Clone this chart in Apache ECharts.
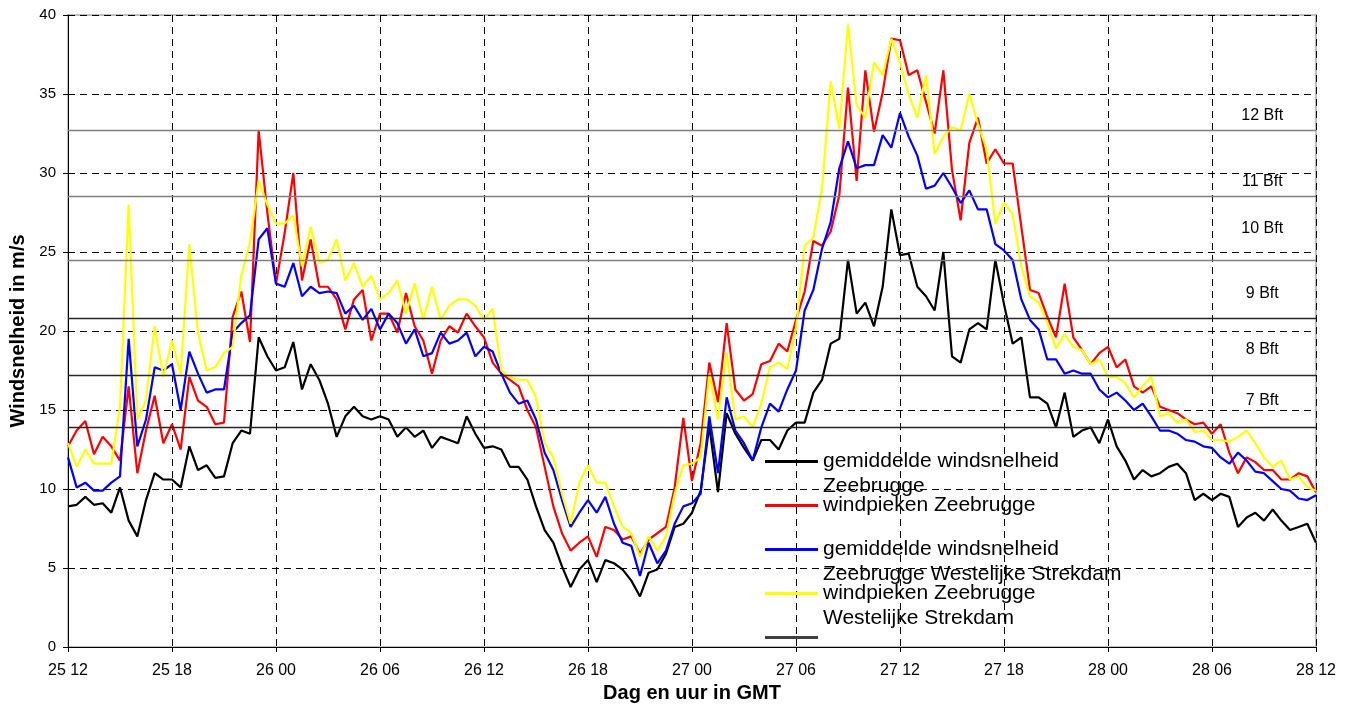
<!DOCTYPE html>
<html>
<head>
<meta charset="utf-8">
<script src="https://cdn.jsdelivr.net/npm/echarts@6/dist/echarts.min.js"></script>
<style>
html, body { margin: 0; padding: 0; background: #fff; }
#chart { width: 1354px; height: 704px; }
</style>
</head>
<body>
<div id="chart"></div>
<script>
// tijdas in uren vanaf 25 12 (GMT), één waarde per half uur
const xLabels = ['25 12', '25 18', '26 00', '26 06', '26 12', '26 18', '27 00',
                 '27 06', '27 12', '27 18', '28 00', '28 06', '28 12'];

// gemiddelde windsnelheid Zeebrugge (m/s)
const meanZeebrugge = [
  8.9, 9.0, 9.5, 9.0, 9.1, 8.5, 10.1, 8.0, 7.0, 9.3, 11.0, 10.6,
  10.6, 10.1, 12.7, 11.2, 11.5, 10.7, 10.8, 12.9, 13.7, 13.5, 19.6, 18.4,
  17.5, 17.7, 19.3, 16.3, 17.9, 16.9, 15.4, 13.3, 14.6, 15.2, 14.6, 14.4,
  14.6, 14.4, 13.3, 13.9, 13.3, 13.7, 12.6, 13.3, 13.1, 12.9, 14.6, 13.5,
  12.6, 12.7, 12.5, 11.4, 11.4, 10.6, 8.9, 7.4, 6.6, 5.1, 3.8, 4.9,
  5.5, 4.1, 5.5, 5.3, 4.9, 4.2, 3.2, 4.7, 4.9, 5.9, 7.6, 7.8,
  8.5, 9.9, 14.0, 9.8, 14.8, 13.5, 12.6, 11.8, 13.1, 13.1, 12.5, 13.7,
  14.2, 14.2, 16.1, 16.9, 19.2, 19.5, 24.5, 21.1, 21.8, 20.3, 22.8, 27.7,
  24.8, 24.9, 22.8, 22.2, 21.3, 25.0, 18.4, 18.0, 20.1, 20.5, 20.1, 24.5,
  21.7, 19.2, 19.6, 15.8, 15.8, 15.4, 13.9, 16.1, 13.3, 13.7, 13.9, 12.9,
  14.4, 12.7, 11.8, 10.6, 11.2, 10.8, 11.0, 11.4, 11.6, 11.0, 9.3, 9.7,
  9.3, 9.7, 9.5, 7.6, 8.2, 8.5, 8.0, 8.7, 8.0, 7.4, 7.6, 7.8,
  6.6
];

// windpieken Zeebrugge (m/s)
const gustZeebrugge = [
  12.7, 13.7, 14.3, 12.2, 13.3, 12.7, 11.8, 16.5, 11.0, 13.7, 15.9, 12.9,
  14.1, 12.5, 17.1, 15.6, 15.2, 14.1, 14.2, 20.9, 22.5, 19.3, 32.7, 27.5,
  23.0, 26.2, 30.0, 23.2, 25.8, 22.8, 22.8, 22.0, 20.1, 22.0, 22.6, 19.4,
  21.1, 21.1, 19.9, 22.4, 20.3, 19.4, 17.3, 19.4, 20.3, 19.9, 21.1, 20.3,
  19.6, 18.0, 17.3, 16.9, 16.5, 15.0, 13.9, 11.4, 8.9, 7.2, 6.1, 6.6,
  7.0, 5.7, 7.6, 7.4, 6.8, 7.0, 5.9, 6.8, 7.2, 7.6, 10.1, 14.5,
  10.5, 12.9, 18.0, 15.5, 20.5, 16.3, 15.6, 16.0, 17.9, 18.1, 19.2, 18.7,
  20.7, 22.5, 25.7, 25.4, 26.3, 28.6, 35.4, 29.5, 36.5, 32.6, 35.1, 38.5,
  38.4, 36.2, 36.5, 34.5, 32.5, 36.5, 30.2, 27.0, 31.9, 33.5, 30.6, 31.5,
  30.6, 30.6, 26.6, 22.6, 22.4, 20.9, 19.6, 23.0, 19.6, 18.8, 17.9, 18.6,
  19.0, 17.7, 18.2, 16.5, 16.1, 16.5, 15.2, 15.0, 14.8, 14.4, 14.1, 14.2,
  13.5, 14.1, 12.3, 11.0, 12.0, 11.7, 11.2, 11.2, 10.6, 10.6, 11.0, 10.8,
  9.8
];

// gemiddelde windsnelheid Zeebrugge Westelijke Strekdam (m/s)
const meanStrekdam = [
  12.0, 10.1, 10.4, 9.9, 9.9, 10.4, 10.8, 19.5, 12.7, 14.4, 17.7, 17.5,
  17.9, 15.0, 18.7, 17.3, 16.1, 16.3, 16.3, 19.9, 20.5, 21.0, 25.8, 26.5,
  23.0, 22.8, 24.3, 22.2, 22.8, 22.4, 22.5, 22.4, 21.1, 21.6, 20.7, 21.4,
  20.1, 21.1, 20.5, 19.2, 20.1, 18.4, 18.6, 19.9, 19.2, 19.4, 19.9, 18.4,
  19.0, 18.7, 17.3, 16.1, 15.4, 15.6, 14.4, 12.3, 11.2, 9.3, 7.6, 8.5,
  9.3, 8.5, 9.5, 7.8, 6.6, 6.4, 4.5, 6.6, 5.3, 6.1, 7.8, 8.9,
  9.1, 9.7, 14.6, 11.0, 15.8, 13.7, 12.9, 11.8, 13.9, 15.4, 14.9, 16.3,
  17.5, 21.3, 22.6, 25.2, 26.9, 30.3, 32.0, 30.3, 30.5, 30.5, 32.4, 31.6,
  33.8, 32.3, 31.1, 29.0, 29.2, 30.0, 29.1, 28.1, 28.9, 27.7, 27.7, 25.5,
  25.1, 24.5, 22.0, 20.7, 20.1, 18.2, 18.2, 17.3, 17.5, 17.3, 17.3, 16.3,
  15.8, 16.1, 15.6, 15.0, 15.4, 14.6, 13.7, 13.7, 13.5, 13.1, 13.0, 12.7,
  12.6, 12.0, 11.6, 12.3, 11.8, 11.1, 11.0, 10.5, 10.0, 9.9, 9.4, 9.3,
  9.6
];

// windpieken Zeebrugge Westelijke Strekdam (m/s)
const gustStrekdam = [
  12.9, 11.4, 12.5, 11.6, 11.6, 11.6, 15.2, 28.0, 14.4, 15.6, 20.3, 17.1,
  19.4, 17.3, 25.5, 19.9, 17.5, 17.7, 18.6, 19.0, 23.5, 25.6, 29.5, 28.0,
  26.8, 26.8, 27.3, 24.1, 26.6, 24.3, 24.5, 25.8, 23.2, 24.3, 22.8, 23.5,
  22.0, 22.4, 23.2, 21.1, 23.0, 20.7, 22.8, 20.7, 21.6, 22.0, 22.0, 21.6,
  20.7, 21.4, 17.5, 17.1, 16.9, 16.9, 15.8, 12.9, 12.0, 9.7, 7.8, 10.4,
  11.5, 10.4, 10.4, 8.9, 7.6, 7.2, 5.7, 7.0, 6.1, 7.0, 9.7, 11.5,
  11.6, 12.0, 17.3, 14.4, 18.6, 14.4, 14.6, 13.9, 15.4, 17.7, 18.0, 17.6,
  20.1, 25.4, 25.9, 29.0, 35.8, 32.8, 39.4, 34.3, 33.5, 37.0, 36.2, 38.5,
  37.0, 35.0, 33.5, 36.2, 31.2, 32.3, 32.9, 32.7, 35.0, 33.1, 31.5, 26.8,
  28.1, 27.4, 24.1, 22.2, 21.8, 20.5, 18.9, 19.8, 19.0, 18.8, 17.9, 18.2,
  17.1, 17.1, 16.7, 15.8, 16.5, 17.1, 14.6, 14.8, 14.2, 14.4, 13.6, 13.7,
  13.1, 13.1, 13.0, 13.3, 13.7, 12.9, 12.0, 11.4, 11.8, 10.6, 10.8, 10.1,
  9.9
];

// grenzen van de Beaufortschaal (m/s)
const bftValues = [13.9, 17.2, 20.8, 24.5, 28.5, 32.7];
const bftLabels = ['7 Bft', '8 Bft', '9 Bft', '10 Bft', '11 Bft', '12 Bft'];

const FONT = '"Liberation Sans", Arial, sans-serif';
const bftColors = ['#262626', '#262626', '#262626', '#7f7f7f', '#7f7f7f', '#7f7f7f'];
const bftLift = [27, 26, 25, 31, 15, 15]; // label boven de lijn, px

function toPairs(values) {
  return values.map(function (v, i) { return [i * 0.5, v]; });
}

function lineSeries(name, color, values) {
  return {
    name: name,
    type: 'line',
    data: toPairs(values),
    color: color,
    showSymbol: false,
    symbol: 'none',
    lineStyle: { color: color, width: 2.2 },
    itemStyle: { color: color },
    silent: true
  };
}

const names = [
  'gemiddelde windsnelheid\nZeebrugge',
  'windpieken Zeebrugge',
  'gemiddelde windsnelheid\nZeebrugge Westelijke Strekdam',
  'windpieken Zeebrugge\nWestelijke Strekdam',
  'Bft'
];

const chart = echarts.init(document.getElementById('chart'));

const option = {
  animation: false,
  backgroundColor: '#fff',
  grid: {
    left: 68, right: 38, top: 15, bottom: 57,
    outerBoundsMode: 'none',
    containLabel: false,
    show: true, borderColor: '#c0c0c0', borderWidth: 2
  },
  legend: {
    orient: 'vertical',
    left: 765,
    top: 424,
    padding: 0,
    itemGap: -31,
    itemWidth: 53,
    itemHeight: 3,
    icon: 'rect',
    selectedMode: false,
    data: names,
    formatter: function (name) {
      if (name === 'Bft') return '\n \n';
      return name.indexOf('\n') >= 0 ? '\n' + name : '\n' + name + '\n';
    },
    textStyle: { fontFamily: FONT, fontSize: 21, lineHeight: 25, color: '#000' }
  },
  xAxis: {
    type: 'value',
    min: 0, max: 72, interval: 6,
    name: 'Dag en uur in GMT',
    nameLocation: 'middle',
    nameGap: 34,
    nameTextStyle: { fontFamily: FONT, fontSize: 20, fontWeight: 'bold', color: '#000' },
    axisLine: { lineStyle: { color: '#000', width: 1 } },
    axisTick: { show: true, length: 5, lineStyle: { color: '#000' } },
    axisLabel: {
      fontFamily: FONT, fontSize: 16, color: '#000', margin: 16,
      formatter: function (v) { return xLabels[Math.round(v / 6)]; }
    },
    splitLine: { show: true, lineStyle: { color: '#000', type: [7, 5], width: 1 } }
  },
  yAxis: {
    type: 'value',
    min: 0, max: 40, interval: 5,
    name: 'Windsnelheid in m/s',
    nameLocation: 'middle',
    nameGap: 38,
    nameRotate: 90,
    nameTextStyle: { fontFamily: FONT, fontSize: 20, fontWeight: 'bold', color: '#000' },
    axisLine: { show: true, lineStyle: { color: '#000', width: 1 } },
    axisTick: { show: true, length: 5, lineStyle: { color: '#000' } },
    axisLabel: { fontFamily: FONT, fontSize: 15, color: '#000', margin: 12 },
    splitLine: { show: true, lineStyle: { color: '#000', type: [7, 5], width: 1 } }
  },
  series: [
    {
      name: 'Bft',
      type: 'line',
      data: [],
      color: '#404040',
      itemStyle: { color: '#404040' },
      lineStyle: { color: '#404040', width: 1 },
      markLine: {
        silent: true,
        symbol: 'none',
        label: { show: false },
        data: bftValues.map(function (v, i) {
          return { yAxis: v, lineStyle: { color: bftColors[i], width: 1.3, type: 'solid' } };
        })
      }
    },
    lineSeries(names[0], '#000000', meanZeebrugge),
    lineSeries(names[1], '#ff0000', gustZeebrugge),
    lineSeries(names[2], '#0000ff', meanStrekdam),
    lineSeries(names[3], '#ffff00', gustStrekdam)
  ]
};

chart.setOption(option);

// Beaufort-labels rechts boven de lijnen
const labelX = chart.convertToPixel({ xAxisIndex: 0 }, 68.9);
chart.setOption({
  graphic: bftLabels.map(function (t, i) {
    return {
      type: 'text',
      x: labelX,
      y: chart.convertToPixel({ yAxisIndex: 0 }, bftValues[i]) - bftLift[i],
      silent: true,
      style: {
        text: t, fill: '#000', fontSize: 16, fontFamily: FONT,
        align: 'center', verticalAlign: 'middle'
      }
    };
  })
});
</script>
</body>
</html>
